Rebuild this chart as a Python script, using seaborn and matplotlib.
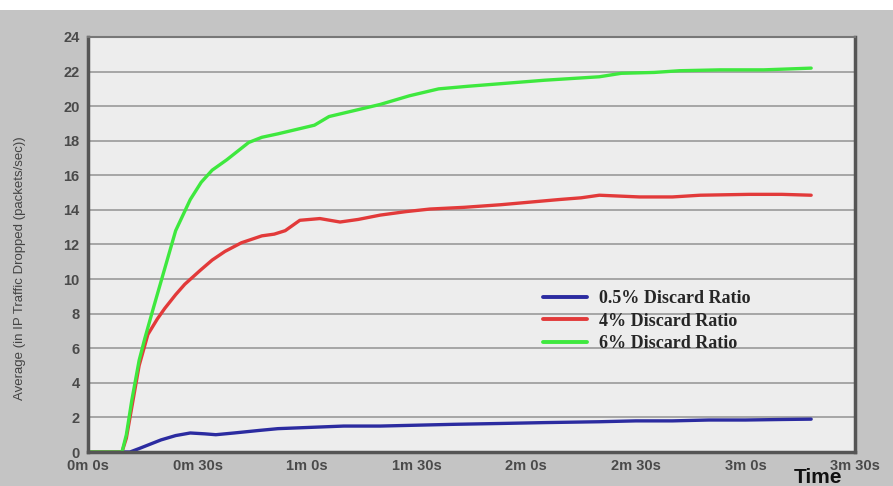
import matplotlib
matplotlib.use("Agg")
import matplotlib.pyplot as plt
import seaborn as sns
import pandas as pd
from matplotlib.patches import Rectangle

# Simulation time (seconds) and average dropped IP traffic (packets/sec)
t_low = [0, 11.5, 14, 17, 20, 24, 28, 32, 35, 40, 47, 52, 58, 64, 70, 80, 90, 100, 113, 125,
         140, 150, 160, 170, 180, 190, 198]
v_low = [0, 0, 0.2, 0.45, 0.7, 0.95, 1.1, 1.05, 1.0, 1.1, 1.25, 1.35, 1.4, 1.45, 1.5, 1.5, 1.55,
         1.6, 1.65, 1.7, 1.75, 1.8, 1.8, 1.85, 1.85, 1.88, 1.9]

t_mid = [0, 9.3, 10.5, 12, 14, 16.4, 19, 21, 24, 26.5, 30.7, 34, 37.5, 42, 47.6, 51, 54, 58,
         63.5, 69, 74, 80, 87, 93.6, 103, 113, 121, 129, 135, 140, 151, 160, 167.6, 181, 190, 198]
v_mid = [0, 0, 0.8, 2.6, 5.0, 6.8, 7.7, 8.3, 9.1, 9.7, 10.5, 11.1, 11.6, 12.1, 12.5, 12.6, 12.8,
         13.4, 13.5, 13.3, 13.45, 13.7, 13.9, 14.05, 14.15, 14.3, 14.45, 14.6, 14.7, 14.85, 14.75,
         14.75, 14.85, 14.9, 14.9, 14.85]

t_high = [0, 9.3, 10.5, 12, 14, 15.6, 18, 21, 24, 28, 31, 34, 38, 41.6, 44, 47.6, 52, 58, 62,
          66, 72, 80, 88, 96, 104, 113, 125, 140, 146, 155, 162, 173, 185, 198]
v_high = [0, 0, 1.0, 3.0, 5.3, 6.6, 8.4, 10.6, 12.8, 14.6, 15.6, 16.3, 16.9, 17.5, 17.9, 18.2,
          18.4, 18.7, 18.9, 19.4, 19.7, 20.1, 20.6, 21.0, 21.15, 21.3, 21.5, 21.7, 21.9, 21.95,
          22.05, 22.1, 22.1, 22.2]

series_names = ["0.5% Discard Ratio", "4% Discard Ratio", "6% Discard Ratio"]
series_colors = ["#2b2ba0", "#e23a3a", "#3ee83e"]

x_ticks = [0, 30, 60, 90, 120, 150, 180, 210]
x_tick_labels = ["0m 0s", "0m 30s", "1m 0s", "1m 30s", "2m 0s", "2m 30s", "3m 0s", "3m 30s"]
y_ticks = list(range(0, 25, 2))

frames = []
for name, t, v in zip(series_names, [t_low, t_mid, t_high], [v_low, v_mid, v_high]):
    frames.append(pd.DataFrame({"time": t, "value": v, "series": name}))
df = pd.concat(frames, ignore_index=True)

sns.set_theme(style="white")
plt.rcParams["font.family"] = ["Liberation Sans", "DejaVu Sans"]

fig = plt.figure(figsize=(8.93, 4.86), dpi=100, facecolor="#c4c4c4")
# white band along the top edge
fig.patches.append(Rectangle((0, 1 - 10 / 486), 1, 10 / 486, transform=fig.transFigure,
                             facecolor="white", edgecolor="none", zorder=0))

ax = fig.add_axes([88 / 893, 1 - 452 / 486, (855 - 88) / 893, (452 - 37) / 486])
ax.set_facecolor("#ededed")

sns.lineplot(data=df, x="time", y="value", hue="series", hue_order=series_names,
             palette=series_colors, linewidth=2.4, ax=ax, legend=False, sort=False)

ax.set_xlim(0, 210)
ax.set_ylim(0, 24)
ax.set_xticks(x_ticks)
ax.set_xticklabels(x_tick_labels)
ax.set_yticks(y_ticks)
ax.grid(axis="y", color="#9a9a9a", linewidth=1.2)
ax.set_axisbelow(True)

for side in ["left", "bottom", "right", "top"]:
    ax.spines[side].set_visible(True)
    ax.spines[side].set_color("#555555")
ax.spines["left"].set_linewidth(2.5)
ax.spines["bottom"].set_linewidth(2.5)
ax.spines["right"].set_linewidth(2.5)
ax.spines["top"].set_linewidth(1.5)
ax.spines["top"].set_color("#777777")

ax.tick_params(axis="both", which="both", direction="out", length=5, width=1.5,
               color="#555555", labelcolor="#4a4a4a", labelsize=10.5, pad=1)
ax.tick_params(axis="x", pad=0)
for lbl in ax.get_yticklabels() + ax.get_xticklabels():
    lbl.set_fontweight("bold")

ax.set_xlabel("")
ax.set_ylabel("")
fig.text(20 / 893, 1 - 268 / 486, "Average (in IP Traffic Dropped (packets/sec))", rotation=90,
         ha="center", va="center", fontsize=9.5, color="#444444")
fig.text(818 / 893, 1 - 477 / 486, "Time", ha="center", va="center", fontsize=15,
         fontweight="bold", color="#111111")

# legend drawn inside the plotting area
handles = [plt.Line2D([], [], color=c, linewidth=2.8) for c in series_colors]
leg = ax.legend(handles, series_names, loc="upper left",
                bbox_to_anchor=((527 - 88) / (855 - 88), (452 - 274) / (452 - 37)),
                frameon=False, handlelength=2.4, handletextpad=0.7, labelspacing=0.3,
                prop={"family": "Liberation Serif", "weight": "bold", "size": 13})

fig.savefig("out.png", dpi=100, facecolor=fig.get_facecolor())
